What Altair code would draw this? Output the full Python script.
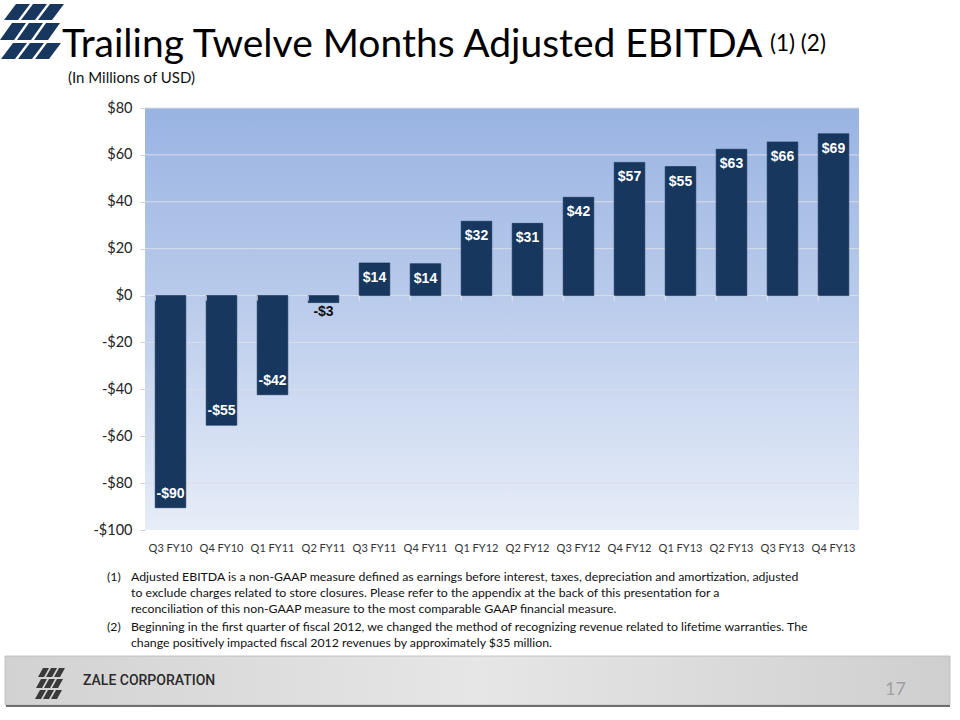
import altair as alt
import pandas as pd

# ---------------- data ----------------
categories = ["Q3 FY10", "Q4 FY10", "Q1 FY11", "Q2 FY11", "Q3 FY11", "Q4 FY11", "Q1 FY12",
              "Q2 FY12", "Q3 FY12", "Q4 FY12", "Q1 FY13", "Q2 FY13", "Q3 FY13", "Q4 FY13"]
values = [-90.5, -55.3, -42.3, -3.0, 13.9, 13.6, 31.7, 30.8, 41.9, 56.8, 55.0, 62.4, 65.5, 69.0]
labels = ["-$90", "-$55", "-$42", "-$3", "$14", "$14", "$32", "$31", "$42", "$57", "$55", "$63", "$66", "$69"]
grid_values = [-80, -60, -40, -20, 0, 20, 40, 60, 80]

title_text = "Trailing Twelve Months Adjusted EBITDA"
title_sup = "(1) (2)"
subtitle_text = "(In Millions of USD)"
note1 = ["Adjusted EBITDA is a non-GAAP measure defined as earnings before interest, taxes, depreciation and amortization, adjusted",
         "to exclude charges related to store closures.  Please refer to the appendix at the back of this presentation for a",
         "reconciliation of this non-GAAP measure to the most comparable GAAP financial measure."]
note2 = ["Beginning in the first quarter of fiscal 2012, we changed the method of recognizing revenue related to lifetime warranties.  The",
         "change positively impacted fiscal 2012 revenues by approximately $35 million."]
footer_name = "ZALE CORPORATION"
page_number = "17"

df = pd.DataFrame({"cat": categories, "value": values, "label": labels})
df["pos"] = ["in_top" if v > 5 else ("in_bottom" if v < -5 else "outside") for v in values]
grid_df = pd.DataFrame({"g": grid_values})
one = pd.DataFrame({"k": [0]})

# ---------------- layout ----------------
W, H = 714, 422
PL, PT = 145, 108  # plot origin on the page
FONT = "Lato"


def px(x):
    return alt.value(x - PL)


def py(y):
    return alt.value(y - PT)


def para(bx, by, w, h, s):
    return f"M{bx},{by}L{bx + w},{by}L{bx + w + s},{by - h}L{bx + s},{by - h}Z"


logo_path = "".join(
    [para(x, 20, 14, 16, 12) for x in (4, 21, 38)]
    + [para(x, 40, 14, 17, 12) for x in (0, 17, 34)]
    + [para(x, 59, 14, 16, 12) for x in (1, 18, 35)]
)
small_logo_path = "".join(
    [para(x, 677, 6, 9, 5) for x in (38, 46, 54)]
    + [para(x, 688, 6, 9, 5) for x in (36, 44, 52)]
    + [para(x, 699, 6, 9, 5) for x in (35, 43, 51)]
)

xscale = alt.Scale(domain=categories, paddingInner=0.4, paddingOuter=0.2)
yscale = alt.Scale(domain=[-100, 80], nice=False, zero=False)

bg_grad = alt.LinearGradient(
    gradient="linear", x1=0, y1=0, x2=0, y2=1,
    stops=[alt.GradientStop(offset=0, color="#99b3e2"),
           alt.GradientStop(offset=0.45, color="#b9cbeb"),
           alt.GradientStop(offset=1, color="#e7edf8")])

footer_grad = alt.LinearGradient(
    gradient="linear", x1=0, y1=0, x2=1, y2=0,
    stops=[alt.GradientStop(offset=0, color="#d2d2d2"),
           alt.GradientStop(offset=0.5, color="#e6e6e6"),
           alt.GradientStop(offset=1, color="#cfcfcf")])

bg = alt.Chart(one).mark_rect(color=bg_grad).encode(
    x=alt.value(0), x2=alt.value(W), y=alt.value(0), y2=alt.value(H))

grid = alt.Chart(grid_df).mark_rule(color="#d9dde6", strokeWidth=1).encode(
    y=alt.Y("g:Q", scale=yscale))

bars = alt.Chart(df).mark_bar(color="#17375e", stroke="#0f2a4c", strokeWidth=0.6).encode(
    x=alt.X("cat:N", sort=categories, scale=xscale, title=None,
            axis=alt.Axis(labelAngle=0, ticks=False, domain=False, labelFont=FONT,
                          labelFontSize=11, labelColor="#333333", labelPadding=12)),
    y=alt.Y("value:Q", scale=yscale, title=None,
            axis=alt.Axis(values=[-100, -80, -60, -40, -20, 0, 20, 40, 60, 80], grid=False,
                          labelExpr="datum.value < 0 ? '-$' + abs(datum.value) : '$' + datum.value",
                          labelFont=FONT, labelFontSize=14.5, labelColor="#222222",
                          domainColor="#d0d0d0", tickColor="#d0d0d0", tickSize=5,
                          labelPadding=8)),
)

zero_ticks = alt.Chart(df).mark_rule(color="#e6eaf2", strokeWidth=1).encode(
    x=alt.X("cat:N", sort=categories, scale=xscale, bandPosition=0),
    y=alt.datum(0, scale=yscale),
    y2=alt.datum(-2.2),
)

lab_top = alt.Chart(df).transform_filter("datum.pos == 'in_top'").mark_text(
    font="Liberation Sans", fontWeight="bold", fontSize=14, color="white",
    baseline="middle", dy=15).encode(
    x=alt.X("cat:N", sort=categories, scale=xscale), y=alt.Y("value:Q", scale=yscale),
    text="label:N")
lab_bot = alt.Chart(df).transform_filter("datum.pos == 'in_bottom'").mark_text(
    font="Liberation Sans", fontWeight="bold", fontSize=14, color="white",
    baseline="middle", dy=-14).encode(
    x=alt.X("cat:N", sort=categories, scale=xscale), y=alt.Y("value:Q", scale=yscale),
    text="label:N")
lab_out = alt.Chart(df).transform_filter("datum.pos == 'outside'").mark_text(
    font="Liberation Sans", fontWeight="bold", fontSize=14, color="#111111",
    baseline="middle", dy=9).encode(
    x=alt.X("cat:N", sort=categories, scale=xscale), y=alt.Y("value:Q", scale=yscale),
    text="label:N")


def txt(text, x, y, size, color="#000000", font=FONT, baseline="middle", weight="normal",
        line_height=None, align="left"):
    kw = dict(font=font, fontSize=size, color=color, baseline=baseline, align=align,
              fontWeight=weight)
    if line_height:
        kw["lineHeight"] = line_height
    return alt.Chart(one).mark_text(**kw).encode(x=px(x), y=py(y), text=alt.value(text))


logo = alt.Chart(one).mark_point(shape=logo_path, size=4, filled=True, color="#17375e",
                                 opacity=1, strokeWidth=0).encode(x=px(0), y=py(0))

footer_box = alt.Chart(one).mark_rect(color=footer_grad, stroke="#b8b8b8", strokeWidth=0.8).encode(
    x=px(5), x2=px(950), y=py(656), y2=py(705))
footer_line = alt.Chart(one).mark_rule(color="#6e6e6e", strokeWidth=2).encode(
    x=px(6), x2=px(950), y=py(706))
small_logo = alt.Chart(one).mark_point(shape=small_logo_path, size=4, filled=True,
                                       color="#3a3a3a", opacity=1, strokeWidth=0).encode(
    x=px(0), y=py(0))

title = txt(title_text, 62, 57, 39, baseline="alphabetic")
sup = txt(title_sup, 770, 51, 22.5, baseline="alphabetic")
subtitle = txt(subtitle_text, 68, 78, 15, color="#111111")
n1a = txt("(1)", 107, 577, 12.3, color="#111111")
n1 = txt(note1, 131, 577, 12.3, color="#111111", line_height=16)
n2a = txt("(2)", 107, 627, 12.3, color="#111111")
n2 = txt(note2, 131, 627, 12.3, color="#111111", line_height=16)
fname = txt(footer_name, 83, 681, 14, color="#2b2b2b", font="Roboto", weight=500)
fnum = txt(page_number, 885, 690, 18, color="#a0a0a0")

chart = alt.layer(
    bg, grid, bars, zero_ticks, lab_top, lab_bot, lab_out,
    logo, title, sup, subtitle, n1a, n1, n2a, n2,
    footer_box, footer_line, small_logo, fname, fnum,
).properties(
    width=W, height=H,
    autosize=alt.AutoSizeParams(type="none"),
    padding={"left": PL, "top": PT, "right": 960 - PL - W, "bottom": 720 - PT - H},
    background="white",
).configure_view(stroke=None)

chart.save("out.html", embed_options={"renderer": "svg", "actions": False})
